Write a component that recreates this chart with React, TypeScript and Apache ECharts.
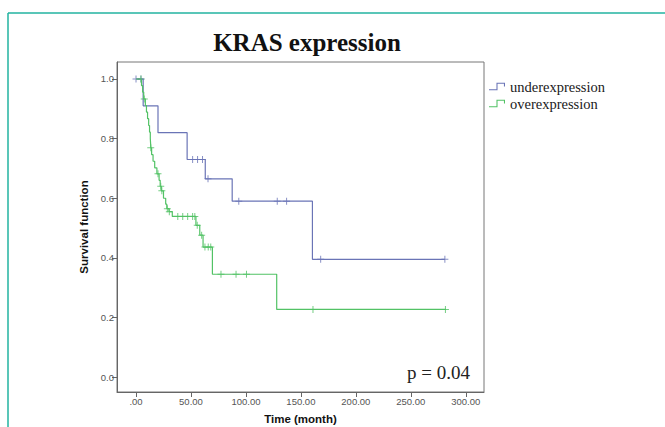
import React, { useEffect, useRef } from 'react';
import * as echarts from 'echarts';

const chartTitle = 'KRAS expression';
const seriesNames = ['underexpression', 'overexpression'];
const xAxisName = 'Time (month)';
const yAxisName = 'Survival function';
const pValueLabel = 'p = 0.04';
const xTicks = [0, 50, 100, 150, 200, 250, 300];
const yTicks = [0, 0.2, 0.4, 0.6, 0.8, 1.0];

// Kaplan-Meier steps: [time, survival after that time]
const underSteps: [number, number][] = [
  [0, 1.0], [6.5, 0.91], [20, 0.82], [46.5, 0.73], [63, 0.665], [87.5, 0.59], [160.5, 0.395], [281, 0.395],
];
const underCensored: [number, number][] = [
  [0, 1.0], [4.5, 1.0], [51.5, 0.73], [56, 0.73], [60.5, 0.73], [65.5, 0.665],
  [93.5, 0.59], [128.5, 0.59], [137, 0.59], [168, 0.395], [281, 0.395],
];

const overSteps: [number, number][] = [
  [0, 1.0], [5, 0.978], [6, 0.956], [7, 0.933], [8.5, 0.911], [9.5, 0.889], [10.5, 0.867],
  [11.5, 0.844], [12.3, 0.822], [13, 0.8], [13.5, 0.769], [14.2, 0.746], [15.5, 0.724],
  [17, 0.702], [19, 0.682], [21, 0.66], [22, 0.64], [23, 0.625], [25, 0.6], [27, 0.58],
  [28, 0.565], [30, 0.555], [33, 0.539], [54.5, 0.509], [58, 0.476], [61, 0.436],
  [69.5, 0.345], [128, 0.227], [282, 0.227],
];
const overCensored: [number, number][] = [
  [4.5, 1.0], [7.5, 0.933], [13.4, 0.769], [20, 0.682], [22.5, 0.64], [23.5, 0.625],
  [28.5, 0.565], [30.3, 0.555], [38, 0.539], [42.5, 0.539], [47, 0.539], [51.5, 0.539],
  [53.5, 0.539], [55.7, 0.509], [59.7, 0.476], [62.7, 0.436], [65.7, 0.436], [68, 0.436],
  [77.3, 0.345], [91, 0.345], [100.5, 0.345], [161, 0.227], [281.5, 0.227],
];

const BLUE = '#6a74b6';
const GREEN = '#52c265';
const SANS = '"Liberation Sans", Arial, sans-serif';
const SERIF = '"Liberation Serif", "Times New Roman", serif';
const PLUS = 'path://M3,0H4V7H3ZM0,3H7V4H0Z';
const STEP_ICON = 'path://M0,6.5H7V0.5H15V4H14V1.5H8V7.5H0Z';

export default function App() {
  const ref = useRef<HTMLDivElement>(null);
  useEffect(() => {
    document.body.style.margin = '0';
    if (!ref.current) return;
    const chart = echarts.init(ref.current, null, { renderer: 'svg' });
    chart.setOption({
      animation: false,
      backgroundColor: '#ffffff',
      grid: {
        left: 117, right: 181, top: 62, bottom: 35,
        show: true, borderColor: '#777', borderWidth: 1,
        containLabel: false,
        outerBoundsMode: 'none',
      },
      legend: {
        data: seriesNames,
        orient: 'vertical',
        left: 484,
        top: 74,
        itemWidth: 16,
        itemHeight: 8,
        itemGap: 2,
        icon: STEP_ICON,
        textStyle: { fontFamily: SERIF, fontSize: 14.5, color: '#1a1a1a' },
      },
      xAxis: {
        type: 'value',
        min: -17.3,
        max: 316.6,
        name: xAxisName,
        nameLocation: 'middle',
        nameGap: 21,
        nameTextStyle: { fontFamily: SANS, fontWeight: 'bold', fontSize: 11.5, color: '#111' },
        axisLine: { show: true, onZero: false, lineStyle: { color: '#666', width: 1 } },
        axisTick: { show: true, customValues: xTicks, length: 5, lineStyle: { color: '#666' } },
        axisLabel: {
          customValues: xTicks,
          color: '#555', fontSize: 9.5, fontFamily: SANS, margin: 4,
          formatter: (v: number) => (v === 0 ? '.00' : v.toFixed(2)),
        },
        splitLine: { show: false },
      },
      yAxis: {
        type: 'value',
        min: -0.05,
        max: 1.057,
        name: yAxisName,
        nameLocation: 'middle',
        nameGap: 26,
        nameTextStyle: { fontFamily: SANS, fontWeight: 'bold', fontSize: 11.5, color: '#111' },
        axisLine: { show: true, onZero: false, lineStyle: { color: '#666', width: 1 } },
        axisTick: { show: true, customValues: yTicks, length: 5, lineStyle: { color: '#666' } },
        axisLabel: {
          customValues: yTicks,
          color: '#555', fontSize: 9.5, fontFamily: SANS, margin: 3,
          formatter: (v: number) => v.toFixed(1),
        },
        splitLine: { show: false },
      },
      series: [
        {
          name: seriesNames[0], type: 'line', step: 'end', data: underSteps,
          showSymbol: false, symbol: 'none', color: BLUE,
          lineStyle: { color: BLUE, width: 1.2 },
        },
        {
          name: seriesNames[1], type: 'line', step: 'end', data: overSteps,
          showSymbol: false, symbol: 'none', color: GREEN,
          lineStyle: { color: GREEN, width: 1.2 },
        },
        {
          name: seriesNames[0] + ' censored', type: 'scatter', data: underCensored,
          symbol: PLUS, symbolSize: [7, 7], itemStyle: { color: BLUE },
        },
        {
          name: seriesNames[1] + ' censored', type: 'scatter', data: overCensored,
          symbol: PLUS, symbolSize: [7, 7], itemStyle: { color: GREEN },
        },
      ],
      graphic: [
        { type: 'line', shape: { x1: 8, y1: 13, x2: 665, y2: 13 }, style: { stroke: '#22b3a0', lineWidth: 1.5 } },
        { type: 'line', shape: { x1: 8, y1: 13, x2: 8, y2: 427 }, style: { stroke: '#22b3a0', lineWidth: 1.5 } },
        {
          type: 'text', x: 307, y: 42,
          style: { text: chartTitle, font: `bold 25px ${SERIF}`, fill: '#111', textAlign: 'center', textVerticalAlign: 'middle' },
        },
        {
          type: 'text', x: 470, y: 372,
          style: { text: pValueLabel, font: `19px ${SERIF}`, fill: '#222', textAlign: 'right', textVerticalAlign: 'middle' },
        },
      ],
    });
    return () => chart.dispose();
  }, []);
  return <div ref={ref} style={{ width: 665, height: 427 }} />;
}
